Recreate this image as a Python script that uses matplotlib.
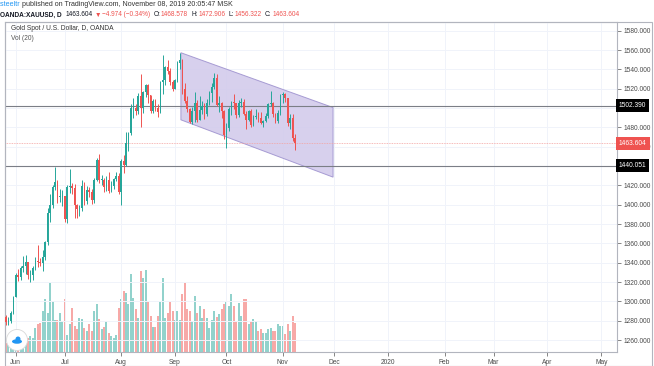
import numpy as np
import pandas as pd
import matplotlib
matplotlib.use("Agg")
import matplotlib.pyplot as plt
from matplotlib.patches import Polygon, Rectangle, Ellipse
from matplotlib.transforms import blended_transform_factory

plt.rcParams['font.family'] = ['Liberation Sans', 'DejaVu Sans']

# daily XAUUSD (OANDA), 2019-05-28 .. 2019-11-08
first_open = 1284.0
closes = [1279, 1280, 1288, 1305,
          1327, 1325, 1334, 1337, 1341, 1327, 1327, 1335, 1342, 1341,
          1340, 1346, 1361, 1391, 1400, 1418, 1423, 1408, 1408, 1409,
          1385, 1418, 1419, 1417, 1400, 1396, 1397, 1419, 1404, 1415,
          1413, 1405, 1426, 1446, 1426, 1426, 1418, 1426, 1414, 1419,
          1427, 1430, 1413,
          1445, 1441, 1464, 1474, 1500, 1500, 1497, 1512, 1500, 1517,
          1524, 1513, 1497, 1507, 1500, 1496, 1527, 1529, 1542, 1538,
          1527, 1520,
          1529, 1547, 1550, 1520, 1507, 1499, 1486, 1497, 1505, 1488,
          1498, 1502, 1494, 1505, 1516, 1522, 1531, 1503, 1505, 1497,
          1472,
          1479, 1499, 1506, 1505, 1493, 1505, 1506, 1494, 1488, 1497,
          1482, 1491, 1492, 1490, 1484, 1487, 1492, 1504, 1505, 1494,
          1487, 1495, 1513,
          1514, 1510, 1484, 1490, 1468.578, 1463.604]
highs = [1286, 1284, 1290, 1306,
         1329, 1333, 1337, 1347, 1348, 1334, 1332, 1337, 1346, 1358,
         1345, 1353, 1362, 1397, 1411, 1420, 1439, 1426, 1416, 1415,
         1395, 1420, 1437, 1422, 1421, 1401, 1400, 1426, 1423, 1419,
         1418, 1416, 1428, 1448, 1452, 1431, 1428, 1430, 1434, 1424,
         1428, 1434, 1433,
         1447, 1451, 1475, 1475, 1504, 1510, 1504, 1516, 1535, 1518,
         1525, 1525, 1513, 1509, 1509, 1504, 1528, 1555, 1543, 1550,
         1541, 1529,
         1530, 1549, 1557, 1551, 1526, 1512, 1500, 1501, 1517, 1508,
         1512, 1507, 1505, 1509, 1518, 1526, 1536, 1535, 1512, 1506,
         1498,
         1484, 1501, 1507, 1514, 1505, 1508, 1510, 1509, 1497, 1498,
         1499, 1493, 1499, 1496, 1496, 1488, 1495, 1505, 1518, 1506,
         1495, 1498, 1514,
         1517, 1516, 1510, 1494, 1494, 1472.906]
lows = [1276, 1276, 1278, 1287,
        1304, 1321, 1322, 1330, 1328, 1323, 1320, 1322, 1332, 1336,
        1337, 1331, 1343, 1358, 1382, 1397, 1415, 1402, 1403, 1399,
        1382, 1381, 1412, 1411, 1386, 1386, 1388, 1393, 1400, 1401,
        1408, 1401, 1402, 1424, 1422, 1420, 1413, 1414, 1412, 1413,
        1416, 1424, 1411,
        1400, 1433, 1440, 1456, 1472, 1490, 1493, 1494, 1480, 1495,
        1511, 1505, 1495, 1495, 1497, 1491, 1495, 1515, 1524, 1535,
        1524, 1518,
        1520, 1527, 1540, 1515, 1505, 1496, 1484, 1483, 1486, 1486,
        1488, 1494, 1489, 1492, 1503, 1506, 1520, 1502, 1496, 1490,
        1468,
        1459, 1476, 1493, 1499, 1490, 1491, 1501, 1493, 1478, 1487,
        1480, 1481, 1489, 1486, 1483, 1480, 1486, 1490, 1502, 1491,
        1484, 1485, 1493,
        1505, 1506, 1481, 1478, 1466, 1456.322]
volumes = [9, 13, 15, 18, 20, 14, 16, 18, 15,
           14, 16, 14, 24, 28, 29, 41, 53, 39, 69, 51, 32, 32, 39, 31, 53,
           17, 28, 44, 26, 23, 34, 33, 24, 21, 28, 21, 41, 48, 33, 23, 25,
           31, 19, 16, 14, 17, 44, 53, 61, 59, 48, 78, 54, 43, 34, 81, 74,
           82, 50, 36, 25, 25, 36, 50, 74, 34, 39, 50, 41, 32, 41, 32, 58,
           69, 43, 41, 31, 56, 39, 46, 34, 43, 34, 24, 32, 41, 35, 38, 43,
           48, 50, 46, 58, 46, 31, 49, 36, 53, 53, 28, 31, 33, 31, 21, 23,
           19, 19, 23, 24, 21, 21, 28, 26, 26, 18, 28, 21, 36, 29]

month_labels = ['Jun', 'Jul', 'Aug', 'Sep', 'Oct', 'Nov', 'Dec', '2020',
                'Feb', 'Mar', 'Apr', 'May']
price_ticks = list(range(1260, 1581, 20))
hidden_ticks = [1440, 1500]   # covered by the level labels
level_hi = 1502.390
level_lo = 1440.051
last_price = 1463.604

# channel corners (bar index, price)
chan_x = [71.4, 133.5]
chan_top = [1557.2, 1500.5]
chan_bot = [1487.8, 1428.5]

opens = [first_open] + closes[:-1]
n = len(closes)
days = pd.bdate_range('2019-05-28', '2020-05-29')
idx = np.arange(n)

UP, DN = '#26a69a', '#ef5350'
VUP, VDN = '#92d2cc', '#f7a9a7'

W, H = 654, 366
fig = plt.figure(figsize=(W / 100, H / 100), dpi=100)
fig.patch.set_facecolor('white')
ax = fig.add_axes([5 / W, (H - 352) / H, (617 - 5) / W, 330 / H])
ax2 = ax.twinx()
ax.set_zorder(ax2.get_zorder() + 1)
ax.patch.set_visible(False)

# volume
vcol = [VUP if c >= o else VDN for o, c in zip(opens, closes)]
ax2.bar(idx, volumes, width=0.82, color=vcol, linewidth=0)
ax2.set_ylim(0, 330)
ax2.set_yticks([])
for s in ax2.spines.values():
    s.set_visible(False)

# first trading day of each month -> tick
tick_pos = []
prev = days[0].month
for i, d in enumerate(days):
    if d.month != prev:
        tick_pos.append(i)
        prev = d.month
tick_pos = tick_pos[:len(month_labels)]

for p in tick_pos:
    ax.axvline(p, color='#f0f3fa', lw=0.7, zorder=0)
for p in price_ticks:
    ax.axhline(p, color='#f0f3fa', lw=0.7, zorder=0)

# channel
poly = Polygon([[chan_x[0], chan_top[0]], [chan_x[1], chan_top[1]],
                [chan_x[1], chan_bot[1]], [chan_x[0], chan_bot[0]]],
               closed=True, facecolor='#d3cbec', edgecolor='#9f93cf',
               lw=0.7, alpha=0.9, zorder=1)
ax.add_patch(poly)

# levels
ax.axhline(level_hi, color='#7b7e86', lw=0.8, zorder=2)
ax.axhline(level_lo, color='#7b7e86', lw=0.8, zorder=2)
ax.axhline(last_price, color='#f4a3a1', lw=0.6, ls=(0, (1, 1)), zorder=2)

# candles
ccol = [UP if c >= o else DN for o, c in zip(opens, closes)]
ax.vlines(idx, lows, highs, colors=ccol, lw=0.7, zorder=3)
bot = np.minimum(opens, closes)
hgt = np.maximum(np.abs(np.array(closes) - np.array(opens)), 0.6)
ax.bar(idx, hgt, bottom=bot, width=0.65, color=ccol, linewidth=0, zorder=4)

ax.set_xlim(-0.4, 249.4)
ax.set_ylim(1247.6, 1589)
ax.yaxis.tick_right()
ax.set_yticks(price_ticks)
ax.set_yticklabels(['' if p in hidden_ticks else '%.3f' % p
                    for p in price_ticks])
ax.set_xticks(tick_pos)
ax.set_xticklabels(month_labels)
ax.tick_params(axis='both', labelsize=4.8, colors='#555555', length=3,
               width=0.5, pad=2)
for lab in ax.get_xticklabels() + ax.get_yticklabels():
    lab.set_color('#4a4a4a')
for s in ax.spines.values():
    s.set_color('#b2b5be')
    s.set_linewidth(0.8)

# right-side price labels
tr = blended_transform_factory(ax.transAxes, ax.transData)
for val, bg in [(level_hi, '#000000'), (last_price, '#ef5350'),
                (level_lo, '#000000')]:
    ax.text(1.003, val, '%.3f' % val, transform=tr, fontsize=4.8,
            color='white', va='center', ha='left', zorder=10,
            clip_on=False,
            bbox=dict(boxstyle='square,pad=0.45', fc=bg, ec='none'))

# legend text inside pane
fig.text(11 / W, 1 - 29 / H, 'Gold Spot / U.S. Dollar, D, OANDA',
         fontsize=4.8, color='#333333', va='center')
fig.text(11 / W, 1 - 38 / H, 'Vol (20)', fontsize=4.8, color='#555555',
         va='center')

# header line 1
t1 = fig.text(0, 1 - 5 / H, 'steeltr ', fontsize=5.1, color='#2196f3',
              va='center')
renderer = fig.canvas.get_renderer()
x1 = t1.get_window_extent(renderer).x1
fig.text(x1 / W, 1 - 5 / H,
         'published on TradingView.com, November 08, 2019 20:05:47 MSK',
         fontsize=5.1, color='#333333', va='center')

# header line 2, pieces chained one after another
pieces = [('OANDA:XAUUSD, D', '#131722', 'bold', 4),
          ('1463.604', '#131722', 'normal', 2),
          ('\u25bc', '#ef5350', 'normal', 1),
          ('\u22124.974 (\u22120.34%)', '#ef5350', 'normal', 3),
          ('O:', '#131722', 'normal', 1),
          ('1468.578', '#ef5350', 'normal', 3),
          ('H:', '#131722', 'normal', 1),
          ('1472.906', '#ef5350', 'normal', 3),
          ('L:', '#131722', 'normal', 1),
          ('1456.322', '#ef5350', 'normal', 3),
          ('C:', '#131722', 'normal', 1),
          ('1463.604', '#ef5350', 'normal', 0)]
xp = 0.0
for s, c, w, gap in pieces:
    t = fig.text(xp / W, 1 - 15 / H, s, fontsize=4.7, color=c,
                 fontweight=w, va='center')
    xp = t.get_window_extent(renderer).x1 + gap

# outer frame
fig.add_artist(Rectangle((5 / W, 0), (652 - 5) / W, (H - 22) / H,
                         transform=fig.transFigure, fill=False,
                         ec='#b2b5be', lw=0.8))

# logo
fig.add_artist(Ellipse((17 / W, 1 - 340 / H), 21 / W, 21 / H,
                       transform=fig.transFigure, fc='white', ec='#d8d8d8',
                       lw=0.6, zorder=20))
fig.add_artist(Ellipse((17 / W, 1 - 341.5 / H), 10 / W, 4.5 / H,
                       transform=fig.transFigure, fc='#2196f3', ec='none',
                       zorder=21))
fig.add_artist(Ellipse((18 / W, 1 - 339 / H), 5 / W, 5 / H,
                       transform=fig.transFigure, fc='#2196f3', ec='none',
                       zorder=21))

fig.savefig('out.png', dpi=100, facecolor='white')
